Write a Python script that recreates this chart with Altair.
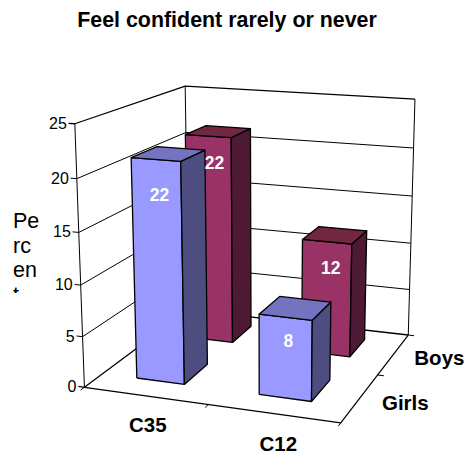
import altair as alt
import numpy as np
import pandas as pd

# ---- data
categories = ["C35", "C12"]
series = ["Girls", "Boys"]
girls = [22, 8]
boys = [22, 12]
z_ticks = [0, 5, 10, 15, 20, 25]
z_max = 25
title_text = "Feel confident rarely or never"
y_title_lines = ["Pe", "rc", "en", "t"]

# ---- 3D box layout: (u, v, w) -> picture position
box = [((0, 0, 0), (84, 387)), ((1, 0, 0), (341, 423)), ((1, 1, 0), (408, 335)), ((0, 1, 0), (189, 310)),
       ((0, 0, 1), (75, 124)), ((1, 1, 1), (415, 99)), ((0, 1, 1), (185, 86))]
A, b = [], []
for (u, v, w), (px, py) in box:
    A.append([u, v, w, 1, 0, 0, 0, 0, -px * u, -px * v, -px * w]); b.append(px)
    A.append([0, 0, 0, 0, u, v, w, 1, -py * u, -py * v, -py * w]); b.append(py)
p = np.linalg.lstsq(np.array(A, float), np.array(b, float), rcond=None)[0]


def proj(u, v, z):
    w = z / z_max
    d = p[8] * u + p[9] * v + p[10] * w + 1
    return ((p[0] * u + p[1] * v + p[2] * w + p[3]) / d, (p[4] * u + p[5] * v + p[6] * w + p[7]) / d)


X_SPAN = {"C35": (0.143, 0.34), "C12": (0.64, 0.843)}
Y_SPAN = {"Girls": (0.155, 0.385), "Boys": (0.66, 0.88)}
BAR_SCALE = 0.975
COL = {"Girls": ("#9999FF", "#4D4D80", "#7373BF"), "Boys": ("#993366", "#4D1933", "#732640")}

xs = alt.Scale(domain=[8, 464], range=[0, 456], nice=False, zero=False)
ys = alt.Scale(domain=[38, 455], range=[0, 417], nice=False, zero=False)


def poly(points, fill=None, width=1.0, color="black"):
    df = pd.DataFrame([{"x": a, "y": c, "i": i} for i, (a, c) in enumerate(points)])
    kw = {"stroke": color, "strokeWidth": width, "strokeJoin": "round"}
    if fill:
        kw["fill"] = fill
    return alt.Chart(df).mark_line(**kw).encode(
        x=alt.X("x:Q", scale=xs, axis=None), y=alt.Y("y:Q", scale=ys, axis=None), order="i:O")


def text(rows, size, bold=False, color="black", align="center"):
    df = pd.DataFrame(rows, columns=["x", "y", "t"])
    return alt.Chart(df).mark_text(font="Liberation Sans", fontSize=size, fontWeight="bold" if bold else "normal",
                                   color=color, align=align, baseline="middle").encode(
        x=alt.X("x:Q", scale=xs, axis=None), y=alt.Y("y:Q", scale=ys, axis=None), text="t:N")


layers = []
# walls and gridlines
for z in z_ticks:
    layers.append(poly([proj(-0.025, 0, z), proj(0, 0, z), proj(0, 1, z), proj(1, 1, z)],
                       width=1.3 if z in (0, 25) else 1.0))
layers.append(poly([proj(0, 0, 0), proj(0, 0, z_max)]))
layers.append(poly([proj(0, 1, 0), proj(0, 1, z_max)]))
layers.append(poly([proj(1, 1, 0), proj(1, 1, z_max)]))
layers.append(poly([proj(0, 0, 0), proj(1, 0, 0), proj(1, 1, 0)], width=1.2))
for u in (0, 0.5, 1):
    layers.append(poly([proj(u, 0, 0), proj(u, -0.03, 0)]))
for v in (0.5, 1):
    layers.append(poly([proj(1, v, 0), proj(1.025, v, 0)]))

# bars, back to front
values = {"Girls": girls, "Boys": boys}
for s in ["Boys", "Girls"]:
    for ci, c in enumerate(categories):
        u0, u1 = X_SPAN[c]
        v0, v1 = Y_SPAN[s]
        h = values[s][ci] * BAR_SCALE
        front, side, top = COL[s]
        layers.append(poly([proj(u0, v0, 0), proj(u1, v0, 0), proj(u1, v0, h), proj(u0, v0, h), proj(u0, v0, 0)], fill=front, width=1.3))
        layers.append(poly([proj(u1, v0, 0), proj(u1, v1, 0), proj(u1, v1, h), proj(u1, v0, h), proj(u1, v0, 0)], fill=side, width=1.3))
        layers.append(poly([proj(u0, v0, h), proj(u1, v0, h), proj(u1, v1, h), proj(u0, v1, h), proj(u0, v0, h)], fill=top, width=1.3))

# value labels
label_rows = []
drops = {("Girls", "C35"): (3.4, 3), ("Girls", "C12"): (2.4, 3), ("Boys", "C35"): (2.8, 6), ("Boys", "C12"): (2.8, 4)}
for s in series:
    for ci, c in enumerate(categories):
        u0, u1 = X_SPAN[c]
        h = values[s][ci]
        drop, dx = drops[(s, c)]
        a, e = proj((u0 + u1) / 2, Y_SPAN[s][0], h * BAR_SCALE - drop)
        label_rows.append((a + dx, e, str(h)))
layers.append(text(label_rows, 17.5, bold=True, color="white"))

# axis labels
rows = []
for z in z_ticks:
    a, e = proj(0, 0, z)
    rows.append((a - 8, e, str(z)))
layers.append(text(rows, 16, align="right"))
cat_rows = []
for u, c in zip((0.245, 0.74), categories):
    a, e = proj(u, -0.18, 0)
    cat_rows.append((a + 25, e + 13, c))
ser_rows = []
for v, s, dx, dy in zip((0.19, 0.72), series, (-4, -1.5), (-7, -3)):
    a, e = proj(1.2, v, 0)
    ser_rows.append((a + dx, e + dy, s))
layers.append(text(cat_rows + ser_rows, 20.5, bold=True))

# clipped vertical axis title
layers.append(text([(13, 222 + 24.5 * i, t) for i, t in enumerate(y_title_lines)], 21.5, align="left"))
mask = pd.DataFrame({"x": [8], "x2": [60], "y": [293], "y2": [325]})
layers.append(alt.Chart(mask).mark_rect(fill="white").encode(
    x=alt.X("x:Q", scale=xs, axis=None), x2="x2:Q", y=alt.Y("y:Q", scale=ys, axis=None), y2="y2:Q"))

chart = alt.layer(*layers).properties(
    width=456, height=417,
    padding={"left": 0, "top": 30, "right": 0, "bottom": 0},
    autosize=alt.AutoSizeParams(type="none"),
    title=alt.TitleParams(title_text, font="Liberation Sans", fontSize=21.4, fontWeight="bold", color="black",
                          anchor="middle", dx=-9, offset=7),
).configure_view(stroke=None)

chart.save("out.html", embed_options={"renderer": "svg", "actions": False})
